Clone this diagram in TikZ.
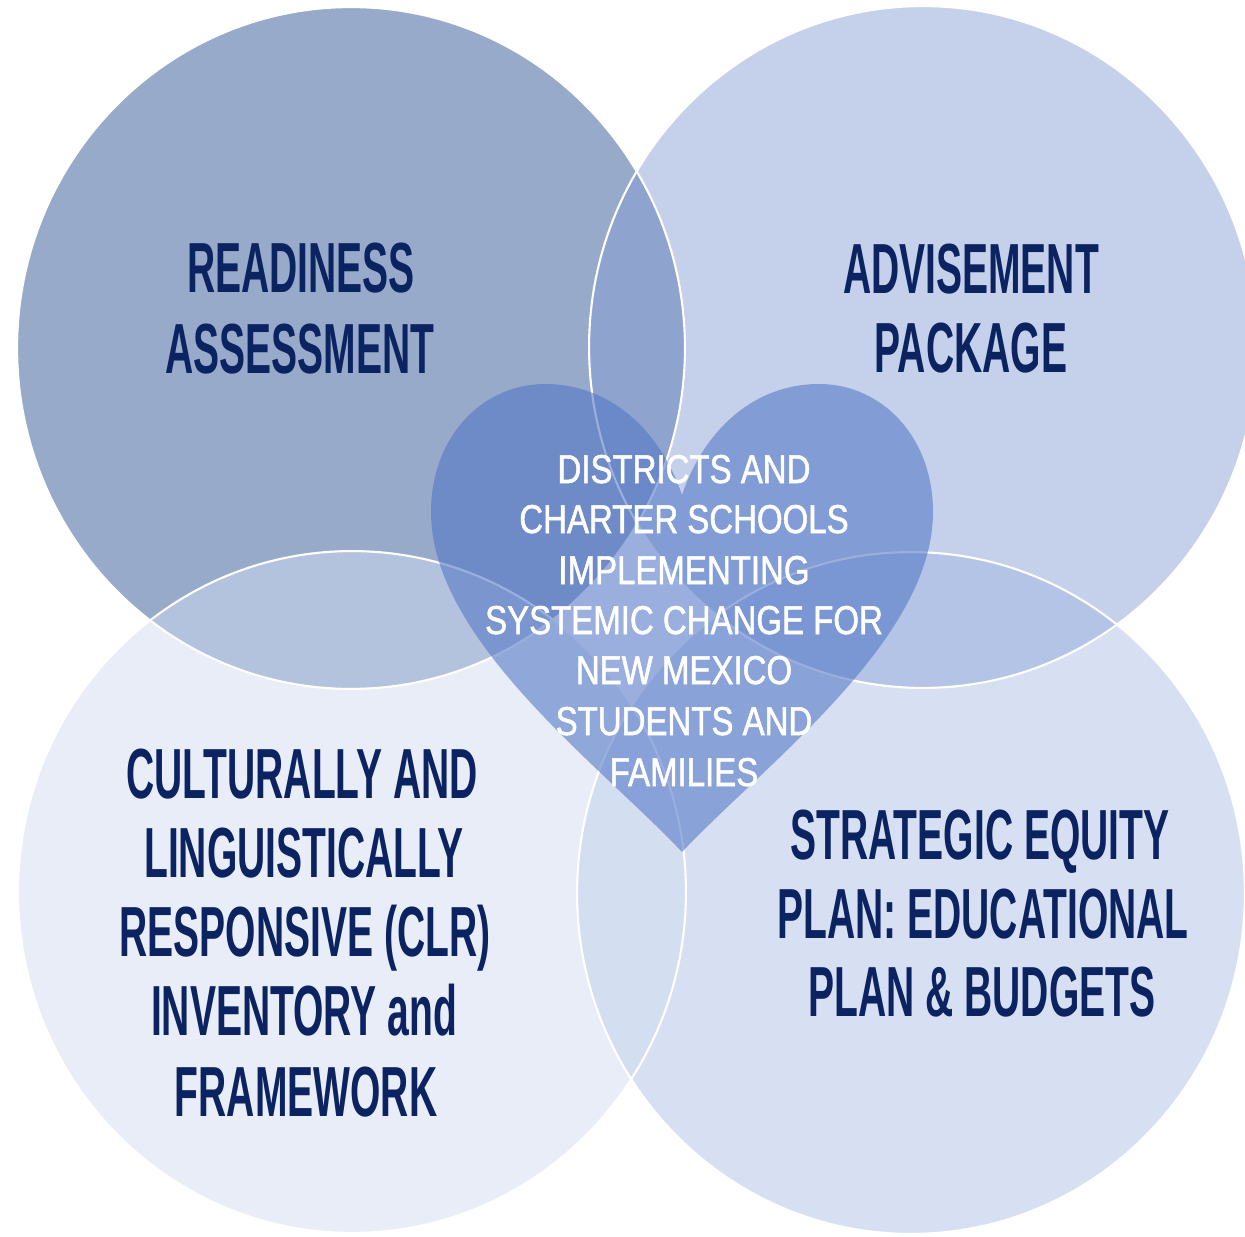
\documentclass[tikz,border=0pt]{standalone}
\usepackage{fontspec}
\newfontfamily\titlefont{Liberation Sans}[FakeStretch=0.55]
\newfontfamily\heartfont{Liberation Sans}[FakeStretch=0.82, FakeBold=1.3]
\definecolor{navy}{RGB}{12,35,98}
\definecolor{ctl}{RGB}{151,170,202}
\definecolor{ctr}{RGB}{133,158,212}
\definecolor{cbr}{RGB}{150,175,225}
\definecolor{cbl}{RGB}{210,221,241}
\definecolor{cheart}{RGB}{82,118,198}
\tikzset{
  bubble/.style={x radius=6.68cm, y radius=6.82cm},
  rim/.style={draw=white, line width=1.2pt},
  title/.style={font=\titlefont\bfseries\fontsize{40.4}{44}\selectfont, text=navy, anchor=base, inner sep=0pt},
  hearttext/.style={font=\heartfont\fontsize{22.9}{28}\selectfont, text=white, anchor=base, inner sep=0pt}
}
\begin{document}
\begin{tikzpicture}[x=0.02cm, y=-0.02cm]
\useasboundingbox (0,0) rectangle (1245,1237);
\fill[white] (0,0) rectangle (1245,1237);
% circles
\coordinate (ctlc) at (351,348);
\coordinate (ctrc) at (923,347);
\coordinate (cblc) at (352,892);
\coordinate (cbrc) at (911,893);
\fill[ctl] (ctlc) ellipse [bubble];
\fill[ctr, fill opacity=0.47] (ctrc) ellipse [bubble];
\fill[cbr, fill opacity=0.38] (cbrc) ellipse [bubble];
\fill[cbl, fill opacity=0.5] (cblc) ellipse [bubble];
\draw[rim] (ctlc) ellipse [bubble];
\draw[rim] (ctrc) ellipse [bubble];
\draw[rim] (cbrc) ellipse [bubble];
\draw[rim] (cblc) ellipse [bubble];
% heart
\fill[cheart, fill opacity=0.58]
  (682,852) .. controls (600,765) and (431,640) .. (431,512)
  .. controls (431,437) and (482,384) .. (545,384)
  .. controls (610,384) and (660,430) .. (682,495)
  .. controls (704,430) and (754,384) .. (819,384)
  .. controls (882,384) and (933,437) .. (933,512)
  .. controls (933,640) and (764,765) .. (682,852) -- cycle;
% titles
\node[title] (tla) at (301,292) {READINESS};
\node[title] (tlb) at (300,373) {ASSESSMENT};
\node[title] (tra) at (971,293) {ADVISEMENT};
\node[title] (trb) at (971,372) {PACKAGE};
\node[title] (bla) at (302,798) {CULTURALLY AND};
\node[title] (blb) at (304,877) {LINGUISTICALLY};
\node[title] (blc) at (305,956) {RESPONSIVE (CLR)};
\node[title] (bld) at (304,1035) {INVENTORY and};
\node[title] (ble) at (306,1116) {FRAMEWORK};
\node[title] (bra) at (980,859) {STRATEGIC EQUITY};
\node[title] (brb) at (983,938) {PLAN: EDUCATIONAL};
\node[title] (brc) at (982,1016) {PLAN \& BUDGETS};
% heart text
\node[hearttext] (h1) at (684,483) {DISTRICTS AND};
\node[hearttext] (h2) at (684,533) {CHARTER SCHOOLS};
\node[hearttext] (h3) at (684,584) {IMPLEMENTING};
\node[hearttext] (h4) at (684,634) {SYSTEMIC CHANGE FOR};
\node[hearttext] (h5) at (684,684) {NEW MEXICO};
\node[hearttext] (h6) at (684,735) {STUDENTS AND};
\node[hearttext] (h7) at (684,786) {FAMILIES};
\end{tikzpicture}
\end{document}
